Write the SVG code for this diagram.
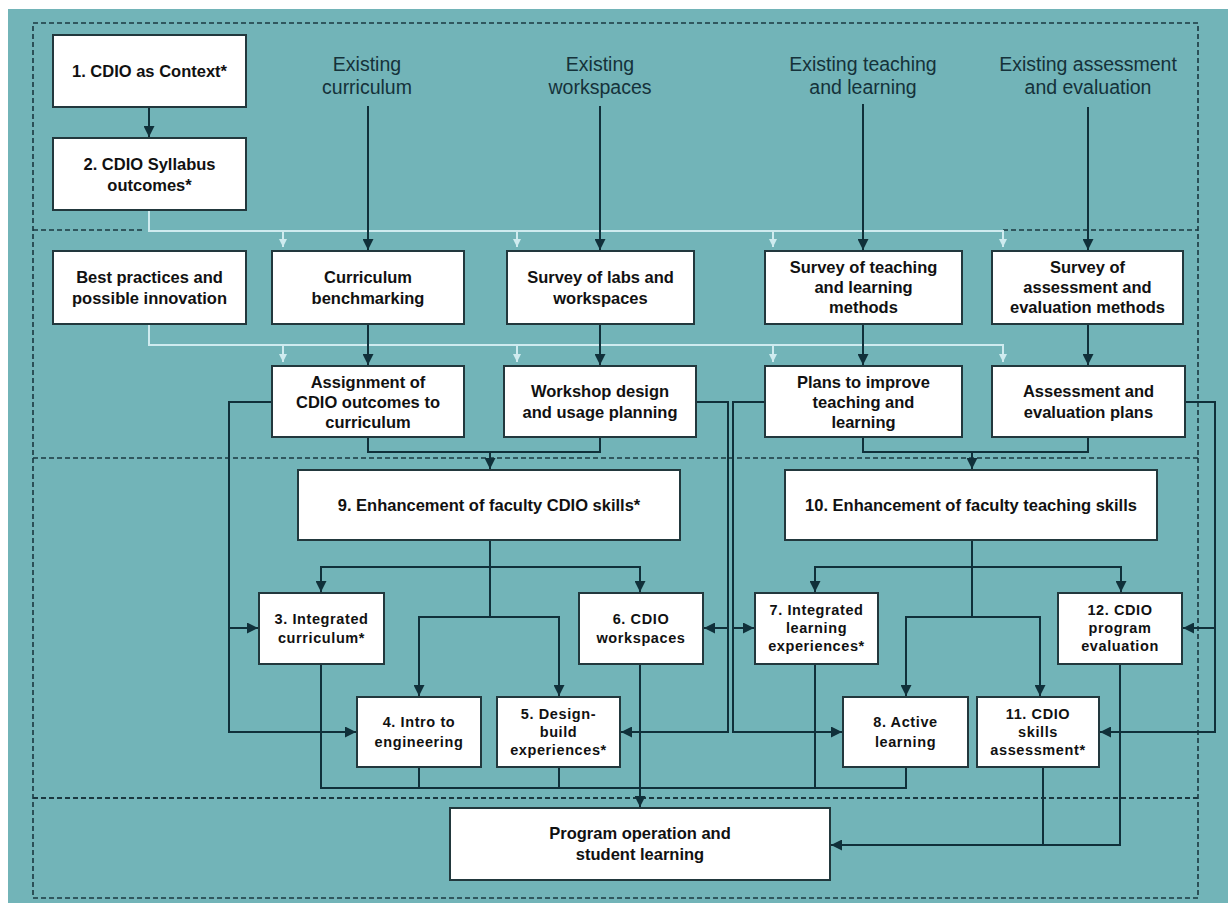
<svg xmlns="http://www.w3.org/2000/svg" width="1228" height="909" viewBox="0 0 1228 909">
<style>
.bg{fill:#72b4b8}
.dash{fill:none;stroke:#1b3840;stroke-width:1.6;stroke-dasharray:5 3}
.box{fill:#ffffff;stroke:#22383d;stroke-width:2}
.c{fill:none;stroke:#10303a;stroke-width:2}
.lt{fill:none;stroke:#cfebef;stroke-width:2}
.t{font-family:"Liberation Sans",Arial,sans-serif;font-weight:bold;font-size:16.5px;fill:#111;text-anchor:middle}
.s{font-family:"Liberation Sans",Arial,sans-serif;font-weight:bold;font-size:14.5px;letter-spacing:0.6px;fill:#111;text-anchor:middle}
.h{font-family:"Liberation Sans",Arial,sans-serif;font-size:19.5px;fill:#15323a;text-anchor:middle}
</style>
<defs>
<marker id="ah" viewBox="0 0 10 10" refX="10" refY="5" markerWidth="11" markerHeight="11" markerUnits="userSpaceOnUse" orient="auto"><path d="M0,0 L10,5 L0,10 z" fill="#10303a"/></marker>
<marker id="al" viewBox="0 0 10 10" refX="10" refY="5" markerWidth="8" markerHeight="8" markerUnits="userSpaceOnUse" orient="auto"><path d="M0,0 L10,5 L0,10 z" fill="#cfebef"/></marker>
</defs>
<rect x="0" y="0" width="1228" height="909" fill="#ffffff"/>
<rect class="bg" x="8" y="9" width="1220" height="894"/>
<g id="frames">
<path class="dash" d="M33,23 H1198 V898 H33 Z"/>
<path class="dash" d="M33,230 H145 M1003,230 H1198"/>
<path class="dash" d="M33,458 H1198"/>
<path class="dash" d="M33,798 H1198" style="stroke-width:2.2"/>
</g>
<g id="headers">
<text class="h" x="367" y="71">Existing<tspan x="367" y="94">curriculum</tspan></text>
<text class="h" x="600" y="71">Existing<tspan x="600" y="94">workspaces</tspan></text>
<text class="h" x="863" y="71">Existing teaching<tspan x="863" y="94">and learning</tspan></text>
<text class="h" x="1088" y="71">Existing assessment<tspan x="1088" y="94">and evaluation</tspan></text>
</g>
<g id="connectors">
<path class="lt" d="M149,210 V231 H1003 V247" marker-end="url(#al)"/>
<path class="lt" d="M283,231 V247" marker-end="url(#al)"/>
<path class="lt" d="M517,231 V247" marker-end="url(#al)"/>
<path class="lt" d="M773,231 V247" marker-end="url(#al)"/>
<path class="lt" d="M149,324 V345 H1003 V362" marker-end="url(#al)"/>
<path class="lt" d="M283,345 V362" marker-end="url(#al)"/>
<path class="lt" d="M517,345 V362" marker-end="url(#al)"/>
<path class="lt" d="M773,345 V362" marker-end="url(#al)"/>
<path class="c" d="M149,107 V137" marker-end="url(#ah)"/>
<path class="c" d="M368,106 V250" marker-end="url(#ah)"/>
<path class="c" d="M600,106 V250" marker-end="url(#ah)"/>
<path class="c" d="M863,104 V250" marker-end="url(#ah)"/>
<path class="c" d="M1088,107 V250" marker-end="url(#ah)"/>
<path class="c" d="M368,324 V365" marker-end="url(#ah)"/>
<path class="c" d="M600,324 V365" marker-end="url(#ah)"/>
<path class="c" d="M863,324 V365" marker-end="url(#ah)"/>
<path class="c" d="M1088,324 V365" marker-end="url(#ah)"/>
<path class="c" d="M368,437 V452 H600 V437"/>
<path class="c" d="M490,452 V469" marker-end="url(#ah)"/>
<path class="c" d="M863,437 V452 H1088 V437"/>
<path class="c" d="M972,452 V469" marker-end="url(#ah)"/>
<path class="c" d="M272,402 H229 V732 H356" marker-end="url(#ah)"/>
<path class="c" d="M229,628 H258" marker-end="url(#ah)"/>
<path class="c" d="M696,402 H728 V732 H621" marker-end="url(#ah)"/>
<path class="c" d="M728,628 H704" marker-end="url(#ah)"/>
<path class="c" d="M765,402 H733 V732 H842" marker-end="url(#ah)"/>
<path class="c" d="M733,628 H754" marker-end="url(#ah)"/>
<path class="c" d="M1185,402 H1215 V732 H1100" marker-end="url(#ah)"/>
<path class="c" d="M1215,628 H1183" marker-end="url(#ah)"/>
<path class="c" d="M490,540 V617"/>
<path class="c" d="M490,567 H321 V592" marker-end="url(#ah)"/>
<path class="c" d="M490,567 H640 V592" marker-end="url(#ah)"/>
<path class="c" d="M490,617 H419 V696" marker-end="url(#ah)"/>
<path class="c" d="M490,617 H559 V696" marker-end="url(#ah)"/>
<path class="c" d="M972,540 V617"/>
<path class="c" d="M972,567 H815 V592" marker-end="url(#ah)"/>
<path class="c" d="M972,567 H1121 V592" marker-end="url(#ah)"/>
<path class="c" d="M972,617 H906 V696" marker-end="url(#ah)"/>
<path class="c" d="M972,617 H1040 V696" marker-end="url(#ah)"/>
<path class="c" d="M321,664 V788 H906 V767"/>
<path class="c" d="M419,767 V788 M559,767 V788 M815,664 V788"/>
<path class="c" d="M640,664 V807" marker-end="url(#ah)"/>
<path class="c" d="M1043,767 V845"/>
<path class="c" d="M1120,664 V845 H831" marker-end="url(#ah)"/>
</g>
<g id="n1"><rect class="box" x="53" y="35" width="193" height="72"/><text class="t" x="149.5" y="77">1. CDIO as Context*</text></g>
<g id="n2"><rect class="box" x="53" y="138" width="193" height="72"/><text class="t" x="149.5" y="170">2. CDIO Syllabus<tspan x="149.5" y="191">outcomes*</tspan></text></g>
<g id="best"><rect class="box" x="53" y="251" width="193" height="73"/><text class="t" x="149.5" y="283">Best practices and<tspan x="149.5" y="304">possible innovation</tspan></text></g>
<g id="bench"><rect class="box" x="272" y="251" width="192" height="73"/><text class="t" x="368" y="283">Curriculum<tspan x="368" y="304">benchmarking</tspan></text></g>
<g id="labs"><rect class="box" x="507" y="251" width="187" height="73"/><text class="t" x="600.5" y="283">Survey of labs and<tspan x="600.5" y="304">workspaces</tspan></text></g>
<g id="stl"><rect class="box" x="765" y="251" width="197" height="73"/><text class="t" x="863.5" y="273">Survey of teaching<tspan x="863.5" y="293">and learning</tspan><tspan x="863.5" y="313">methods</tspan></text></g>
<g id="sae"><rect class="box" x="992" y="251" width="191" height="73"/><text class="t" x="1087.5" y="273">Survey of<tspan x="1087.5" y="293">assessment and</tspan><tspan x="1087.5" y="313">evaluation methods</tspan></text></g>
<g id="assign"><rect class="box" x="272" y="366" width="192" height="71"/><text class="t" x="368" y="388">Assignment of<tspan x="368" y="408">CDIO outcomes to</tspan><tspan x="368" y="428">curriculum</tspan></text></g>
<g id="wdup"><rect class="box" x="504" y="366" width="192" height="71"/><text class="t" x="600" y="397">Workshop design<tspan x="600" y="418">and usage planning</tspan></text></g>
<g id="plans"><rect class="box" x="765" y="366" width="197" height="71"/><text class="t" x="863.5" y="388">Plans to improve<tspan x="863.5" y="408">teaching and</tspan><tspan x="863.5" y="428">learning</tspan></text></g>
<g id="aep"><rect class="box" x="992" y="366" width="193" height="71"/><text class="t" x="1088.5" y="397">Assessment and<tspan x="1088.5" y="418">evaluation plans</tspan></text></g>
<g id="n9"><rect class="box" x="298" y="470" width="382" height="70"/><text class="t" x="489" y="511">9. Enhancement of faculty CDIO skills*</text></g>
<g id="n10"><rect class="box" x="785" y="470" width="372" height="70"/><text class="t" x="971" y="511">10. Enhancement of faculty teaching skills</text></g>
<g id="n3"><rect class="box" x="259" y="593" width="125" height="71"/><text class="s" x="321.5" y="624">3. Integrated<tspan x="321.5" y="643">curriculum*</tspan></text></g>
<g id="n6"><rect class="box" x="579" y="593" width="124" height="71"/><text class="s" x="641" y="624">6. CDIO<tspan x="641" y="643">workspaces</tspan></text></g>
<g id="n7"><rect class="box" x="755" y="593" width="123" height="71"/><text class="s" x="816.5" y="615">7. Integrated<tspan x="816.5" y="633">learning</tspan><tspan x="816.5" y="651">experiences*</tspan></text></g>
<g id="n12"><rect class="box" x="1058" y="593" width="124" height="71"/><text class="s" x="1120" y="615">12. CDIO<tspan x="1120" y="633">program</tspan><tspan x="1120" y="651">evaluation</tspan></text></g>
<g id="n4"><rect class="box" x="357" y="697" width="124" height="70"/><text class="s" x="419" y="727">4. Intro to<tspan x="419" y="747">engineering</tspan></text></g>
<g id="n5"><rect class="box" x="497" y="697" width="123" height="70"/><text class="s" x="558.5" y="719">5. Design-<tspan x="558.5" y="737">build</tspan><tspan x="558.5" y="755">experiences*</tspan></text></g>
<g id="n8"><rect class="box" x="843" y="697" width="125" height="70"/><text class="s" x="905.5" y="727">8. Active<tspan x="905.5" y="747">learning</tspan></text></g>
<g id="n11"><rect class="box" x="977" y="697" width="122" height="70"/><text class="s" x="1038" y="719">11. CDIO<tspan x="1038" y="737">skills</tspan><tspan x="1038" y="755">assessment*</tspan></text></g>
<g id="prog"><rect class="box" x="450" y="808" width="380" height="72"/><text class="t" x="640" y="839">Program operation and<tspan x="640" y="860">student learning</tspan></text></g>
</svg>
